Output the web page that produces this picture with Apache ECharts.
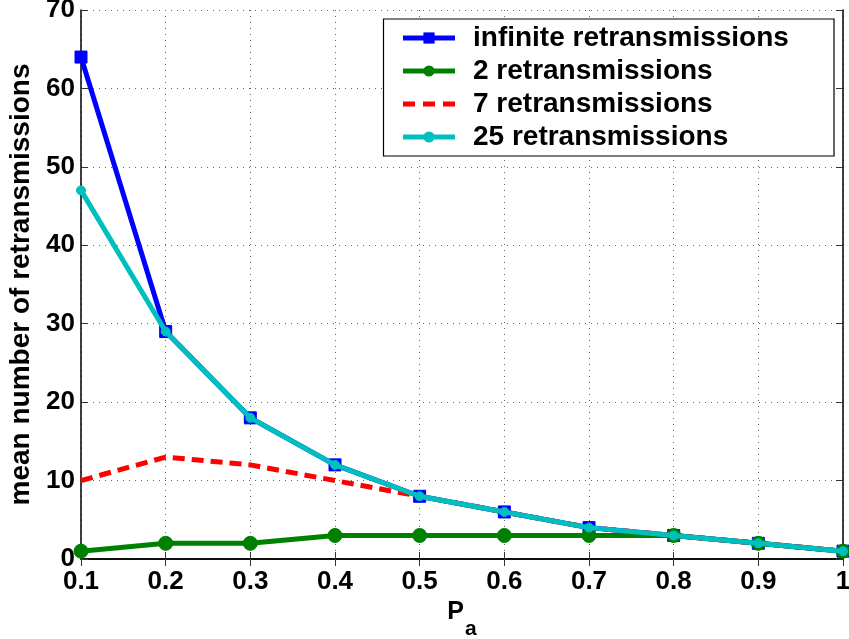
<!DOCTYPE html>
<html>
<head>
<meta charset="utf-8">
<script src="https://cdn.jsdelivr.net/npm/echarts@6/dist/echarts.min.js"></script>
<style>html,body{margin:0;padding:0;background:#fff}#c{width:849px;height:639px}</style>
</head>
<body>
<div id="c"></div>
<script>
const categories = ['0.1','0.2','0.3','0.4','0.5','0.6','0.7','0.8','0.9','1'];
const infiniteRetx = [64, 29, 18, 12, 8, 6, 4, 3, 2, 1];
const retx2 = [1, 2, 2, 3, 3, 3, 3, 3, 2, 1];
const retx7 = [10, 13, 12, 10, 8, 6, 4, 3, 2, 1];
const retx25 = [47, 29, 18, 12, 8, 6, 4, 3, 2, 1];
const seriesNames = ['infinite retransmissions', '2 retransmissions', '7 retransmissions', '25 retransmissions'];

const FONT = '"Liberation Sans", Arial, Helvetica, sans-serif';
const chart = echarts.init(document.getElementById('c'), null, {renderer: 'canvas'});
const tickStyle = {show: true, inside: true, length: 7, lineStyle: {color: '#333', width: 1}};
const gridLine = {show: true, lineStyle: {color: '#666', width: 1, type: [1, 5]}};
const axisLine = {show: true, lineStyle: {color: '#000', width: 1.5}};

chart.setOption({
  animation: false,
  backgroundColor: '#fff',
  grid: {left: 81, right: 6, top: 10, bottom: 80, containLabel: false, outerBoundsMode: 'none'},
  legend: {
    orient: 'vertical', right: 15, top: 19,
    backgroundColor: '#fff',
    borderColor: '#000', borderWidth: 1.2,
    padding: [4, 17, 4, 17],
    itemWidth: 52, itemHeight: 14, itemGap: 3,
    textStyle: {fontFamily: FONT, fontWeight: 'bold', fontSize: 28, color: '#000', lineHeight: 30, width: 344, padding: [0, 0, 0, 13]},
    data: [
      {name: seriesNames[0], lineStyle: {width: 5, color: '#0000ff'}},
      {name: seriesNames[1], lineStyle: {width: 5, color: '#008000'}},
      {name: seriesNames[2], lineStyle: {width: 5, color: '#ff0000', type: [12, 8]}, itemStyle: {opacity: 0}},
      {name: seriesNames[3], lineStyle: {width: 5, color: '#00bfbf'}}
    ]
  },
  xAxis: [{
    type: 'category', data: categories, boundaryGap: false,
    axisLine: axisLine, axisTick: tickStyle, splitLine: gridLine,
    axisLabel: {fontFamily: FONT, fontWeight: 'bold', fontSize: 26, color: '#000', margin: 10, interval: 0},
    name: '{p|P}{s|a}', nameLocation: 'middle', nameGap: 37,
    nameTextStyle: {
      rich: {
        p: {fontFamily: FONT, fontWeight: 'bold', fontSize: 25, lineHeight: 25, color: '#000', verticalAlign: 'top'},
        s: {fontFamily: FONT, fontWeight: 'bold', fontSize: 21, lineHeight: 21, color: '#000', verticalAlign: 'top', padding: [19, 0, 0, 1]}
      }
    }
  }, {
    type: 'category', data: categories, boundaryGap: false, position: 'top',
    axisLine: axisLine, axisTick: tickStyle, axisLabel: {show: false}, splitLine: {show: false}
  }],
  yAxis: [{
    type: 'value', min: 0, max: 70, interval: 10,
    axisLine: axisLine, axisTick: tickStyle, splitLine: gridLine,
    axisLabel: {fontFamily: FONT, fontWeight: 'bold', fontSize: 26, color: '#000', margin: 6},
    name: 'mean number of retransmissions', nameLocation: 'middle', nameGap: 44,
    nameTextStyle: {fontFamily: FONT, fontWeight: 'bold', fontSize: 28, color: '#000'}
  }, {
    type: 'value', min: 0, max: 70, interval: 10, position: 'right',
    axisLine: axisLine, axisTick: tickStyle, axisLabel: {show: false}, splitLine: {show: false}
  }],
  series: [{
    name: seriesNames[0], type: 'line', data: infiniteRetx, clip: false, showAllSymbol: true,
    symbol: 'rect', symbolSize: 12,
    lineStyle: {color: '#0000ff', width: 5}, itemStyle: {color: '#0000ff', borderColor: '#0000ff'}, z: 2
  }, {
    name: seriesNames[1], type: 'line', data: retx2, clip: false, showAllSymbol: true,
    symbol: 'circle', symbolSize: 14,
    lineStyle: {color: '#008000', width: 5}, itemStyle: {color: '#008000', borderColor: '#008000'}, z: 3
  }, {
    name: seriesNames[2], type: 'line', data: retx7, clip: false, showSymbol: false, symbol: 'none',
    lineStyle: {color: '#ff0000', width: 5, type: [12, 7]}, itemStyle: {color: '#ff0000'}, z: 4
  }, {
    name: seriesNames[3], type: 'line', data: retx25, clip: false, showAllSymbol: true,
    symbol: 'circle', symbolSize: 9,
    lineStyle: {color: '#00bfbf', width: 5}, itemStyle: {color: '#00bfbf', borderColor: '#00bfbf'}, z: 5
  }]
});
</script>
</body>
</html>
